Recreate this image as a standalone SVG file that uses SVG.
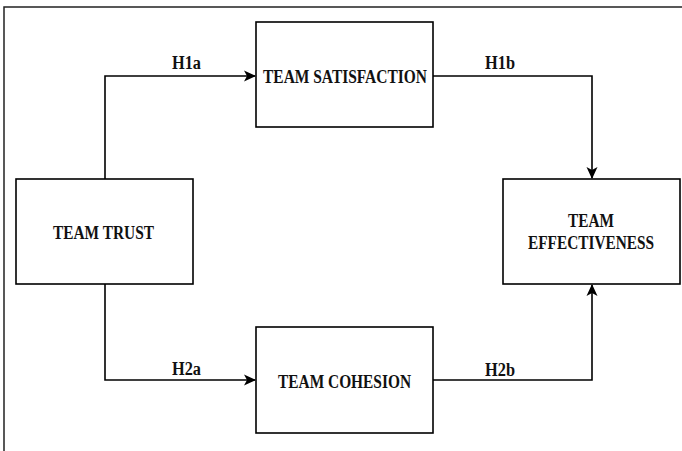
<svg xmlns="http://www.w3.org/2000/svg" width="682" height="451" viewBox="0 0 682 451">
<style>
.node rect{fill:#fff;stroke:#000;stroke-width:1.6}
text{font-family:"Liberation Serif","Times New Roman",serif;font-weight:bold;font-size:18px;fill:#111;text-anchor:middle}
.edge{fill:none;stroke:#000;stroke-width:1.6}
</style>
<defs>
<marker id="arr" viewBox="0 0 12 12" refX="11" refY="6" markerWidth="12" markerHeight="12" markerUnits="userSpaceOnUse" orient="auto">
<path d="M0,0.5 L12,6 L0,11.5 L3,6 Z" fill="#000"/>
</marker>
</defs>
<rect x="0" y="0" width="682" height="451" fill="#fff"/>
<rect x="4" y="7" width="690" height="460" fill="none" stroke="#222" stroke-width="1.5"/>
<g id="connectors">
<path class="edge" d="M105,179 V76 H255" marker-end="url(#arr)"/>
<path class="edge" d="M433,76 H592 V178" marker-end="url(#arr)"/>
<path class="edge" d="M105,284 V380 H255" marker-end="url(#arr)"/>
<path class="edge" d="M433,380 H592 V285" marker-end="url(#arr)"/>
<text x="186.5" y="69" textLength="29" lengthAdjust="spacingAndGlyphs">H1a</text>
<text x="500" y="69" textLength="30" lengthAdjust="spacingAndGlyphs">H1b</text>
<text x="186.5" y="375" textLength="29" lengthAdjust="spacingAndGlyphs">H2a</text>
<text x="500" y="375.5" textLength="30" lengthAdjust="spacingAndGlyphs">H2b</text>
</g>
<g id="team-trust" class="node"><rect x="16" y="179" width="177" height="105"/><text x="103.5" y="239" textLength="101" lengthAdjust="spacingAndGlyphs">TEAM TRUST</text></g>
<g id="team-satisfaction" class="node"><rect x="256" y="22" width="177" height="105"/><text x="345" y="83" textLength="164" lengthAdjust="spacingAndGlyphs">TEAM SATISFACTION</text></g>
<g id="team-cohesion" class="node"><rect x="256" y="327" width="177" height="106"/><text x="344.5" y="388" textLength="133" lengthAdjust="spacingAndGlyphs">TEAM COHESION</text></g>
<g id="team-effectiveness" class="node"><rect x="503" y="179" width="177" height="105"/><text x="591" y="227" textLength="46" lengthAdjust="spacingAndGlyphs">TEAM</text><text x="591" y="249" textLength="126" lengthAdjust="spacingAndGlyphs">EFFECTIVENESS</text></g>
</svg>
